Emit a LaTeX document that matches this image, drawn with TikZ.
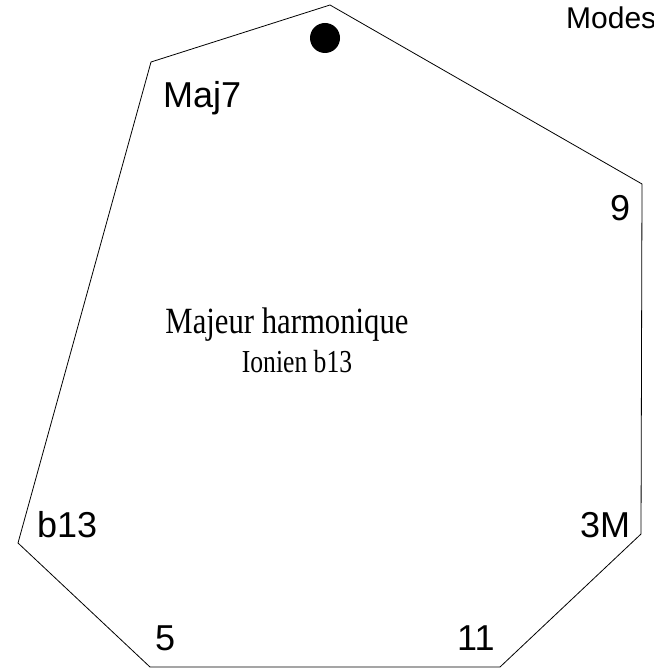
\documentclass[tikz,border=0pt]{standalone}
\usepackage{fontspec}
\usepackage{graphicx}
\setmainfont{Liberation Serif}
\newfontfamily\arialfont{Liberation Sans}
\begin{document}
\begin{tikzpicture}[x=1pt,y=-1pt,
  lbl/.style={inner sep=0pt,anchor=base west,font=\arialfont\fontsize{36}{42}\selectfont},
  outline/.style={draw=black,line width=0.8pt,line join=miter}]
\useasboundingbox (0,0) rectangle (653,671);
\coordinate (v1) at (330,5);
\coordinate (v2) at (642,184);
\coordinate (v3) at (641,534);
\coordinate (v4) at (500,667);
\coordinate (v5) at (150,667);
\coordinate (v6) at (18,543);
\coordinate (v7) at (151,62);
\draw[outline] (v1) -- (v2) -- (v3) -- (v4) -- (v5) -- (v6) -- (v7) -- cycle;
\fill[black] (325,38) circle (15);
\node[lbl,font=\arialfont\fontsize{30}{34}\selectfont] (modes) at (566,29) {Modes};
\node[lbl] (maj7) at (163,108) {Maj7};
\node[lbl] (nine) at (610,220) {9};
\node[lbl] (threeM) at (580,537) {3M};
\node[lbl] (b13) at (37,537) {b13};
\node[lbl] (five) at (155,650) {5};
\node[lbl] (eleven) at (457,650) {11};
\node[inner sep=0pt,anchor=base,font=\fontsize{37}{42}\selectfont] (title) at (287,333) {\scalebox{0.83}[1]{Majeur harmonique}};
\node[inner sep=0pt,anchor=base,font=\fontsize{32}{38}\selectfont] (sub) at (297,372) {\scalebox{0.8}[1]{Ionien b13}};
\end{tikzpicture}
\end{document}
